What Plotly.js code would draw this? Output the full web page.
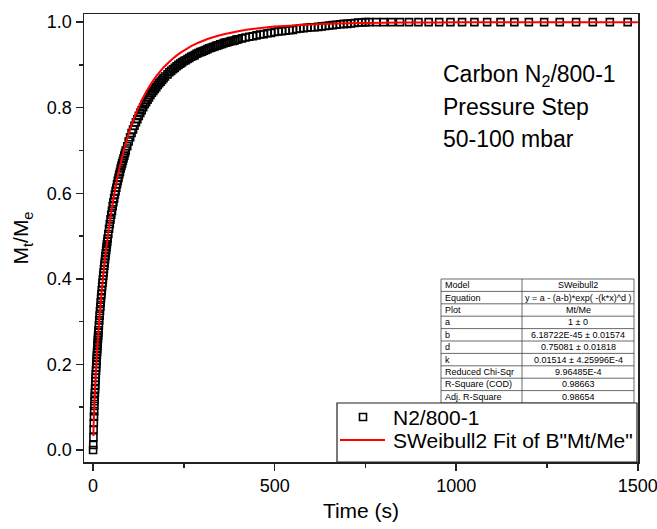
<!DOCTYPE html>
<html>
<head>
<meta charset="utf-8">
<script src="https://cdn.plot.ly/plotly-3.0.1.min.js"></script>
<style>html,body{margin:0;padding:0;background:#fff;}#chart{width:657px;height:529px;}</style>
</head>
<body>
<div id="chart"></div>
<script>
// Measured data: time (s) and normalized uptake Mt/Me
const timeS = [
  0,0.5,1,1.5,2,2.5,3,3.5,4,4.5,5,5.5,6,6.5,7,7.5,8,8.5,9,9.5,10,10.5,11,11.5,12,12.5,13,13.5,14,14.5,15,
  16,17,18,19,20,21,22,23,24,25,26,27,28,29,30,31,32,33,34,35,36,37,38,39,40,
  42,44,46,48,50,52,54,56,58,60,62,64,66,68,70,72,74,76,78,80,82,84,86,88,90,
  94,98,102,106,110,114,118,122,126,130,134,138,142,146,150,154,158,162,166,170,174,178,182,186,190,194,198,
  205,210,215,220,225,230,235,240,245,250,255,260,265,270,275,280,285,290,295,300,
  305,310,315,320,325,330,335,340,345,350,355,360,365,370,375,380,385,390,395,400,
  410,420,430,440,450,460,470,480,490,500,510,520,530,540,550,560,570,580,590,600,
  610,620,630,640,650,660,670,680,690,700,710,720,730,740,750,
  760,780,800,822,845,870,896,924,953,984,1016,1050,1085,1122,1160,1200,1242,1285,1330,1376,1423,1472
];
const mtMe = [
  0,0.012,0.030,0.048,0.063,0.078,0.091,0.103,0.114,0.124,0.134,0.143,0.152,0.161,0.169,0.177,0.185,0.193,0.201,0.208,0.215,0.222,0.229,0.236,0.243,0.249,0.256,0.262,0.268,0.274,0.280,
  0.292,0.303,0.314,0.325,0.335,0.345,0.355,0.364,0.373,0.382,0.391,0.399,0.407,0.415,0.423,0.431,0.438,0.446,0.453,0.460,0.467,0.474,0.481,0.487,0.494,
  0.505,0.517,0.528,0.539,0.550,0.559,0.570,0.579,0.588,0.597,0.605,0.613,0.621,0.629,0.636,0.644,0.650,0.658,0.664,0.670,0.676,0.682,0.688,0.694,0.700,
  0.710,0.721,0.731,0.741,0.749,0.758,0.766,0.773,0.781,0.788,0.794,0.801,0.808,0.813,0.819,0.824,0.830,0.835,0.839,0.844,0.848,0.853,0.857,0.861,0.865,0.869,0.873,
  0.878,0.883,0.886,0.890,0.893,0.897,0.900,0.903,0.906,0.909,0.911,0.914,0.916,0.919,0.921,0.923,0.926,0.928,0.930,0.931,
  0.933,0.935,0.937,0.939,0.940,0.942,0.943,0.945,0.946,0.948,0.949,0.951,0.952,0.953,0.954,0.956,0.956,0.957,0.959,0.960,
  0.962,0.964,0.966,0.967,0.969,0.971,0.972,0.974,0.975,0.977,0.978,0.979,0.980,0.981,0.982,0.984,0.985,0.986,0.987,0.988,
  0.988,0.989,0.990,0.991,0.992,0.993,0.994,0.995,0.996,0.996,0.997,0.998,0.999,0.999,1.000,
  1,1,1,1,1,1,1,1,1,1,1,1,1,1,1,1,1,1,1,1,1,1
];
// SWeibull2 fit curve, sampled
const fitTime = [0.7,1,1.5,2,3,4,5,6,8,10,12,15,18,21,25,30,35,40,46,52,60,68,76,84,94,106,118,130,142,154,166,178,190,200,220,240,260,280,300,330,360,400,450,500,560,600,700,800,900,1000,1200,1500];
const fitVal  = [0.0325,0.0422,0.0568,0.0700,0.0937,0.1149,0.1344,0.1525,0.1856,0.2155,0.2429,0.2803,0.3141,0.3451,0.3827,0.4249,0.4626,0.4966,0.5333,0.5664,0.6055,0.6401,0.6707,0.6980,0.7282,0.7596,0.7866,0.8101,0.8305,0.8484,0.8640,0.8779,0.8901,0.8992,0.9150,0.9280,0.9388,0.9479,0.9554,0.9646,0.9717,0.9789,0.9852,0.9896,0.9930,0.9946,0.9972,0.9985,0.9992,0.9995,0.99985,0.99997];

// Axis ticks
const xTicks = [0, 500, 1000, 1500];
const yTicks = [0, 0.2, 0.4, 0.6, 0.8, 1.0];
const yTickText = ["0.0", "0.2", "0.4", "0.6", "0.8", "1.0"];

// Fit report table
const tableLabels = ["Model","Equation","Plot","a","b","d","k","Reduced Chi-Sqr","R-Square (COD)","Adj. R-Square"];
const tableValues = ["SWeibull2","y = a - (a-b)*exp( -(k*x)^d )","Mt/Me","1 \u00b1 0","6.18722E-45 \u00b1 0.01574","0.75081 \u00b1 0.01818","0.01514 \u00b1 4.25996E-4","9.96485E-4","0.98663","0.98654"];

const seriesNames = ["N2/800-1", "SWeibull2 Fit of B\"Mt/Me\""];
const noteLines = ["Carbon N<sub>2</sub>/800-1", "Pressure Step", "50-100 mbar"];

const FONT = "Liberation Sans, Arial, sans-serif";
const W = 657, H = 529;
const M = {l:84, r:19, t:14, b:67};
const pw = W - M.l - M.r, ph = H - M.t - M.b;
const px = x => (x - M.l) / pw;
const py = y => (H - M.b - y) / ph;

const traces = [
  {
    type: 'scatter', mode: 'markers', name: seriesNames[0], showlegend: false,
    x: timeS, y: mtMe,
    marker: {symbol: 'square-open', size: 7, color: '#000', line: {width: 1.6, color: '#000'}}
  },
  {
    type: 'scatter', mode: 'lines', name: seriesNames[1], showlegend: false,
    x: fitTime, y: fitVal,
    line: {color: '#ff0000', width: 2, shape: 'spline', smoothing: 0.6}
  }
];

const shapes = [];
const annotations = [];

// Table (fit report)
const T = {x0: 441, x1: 634, xm: 522, y0: 279, y1: 403};
const nRows = tableLabels.length;
const rh = (T.y1 - T.y0) / nRows;
const tline = {color: '#444', width: 0.8};
shapes.push({type:'rect', xref:'paper', yref:'paper', x0:px(T.x0), x1:px(T.x1), y0:py(T.y1), y1:py(T.y0), line:tline, fillcolor:'#fff', layer:'above'});
shapes.push({type:'line', xref:'paper', yref:'paper', x0:px(T.xm), x1:px(T.xm), y0:py(T.y1), y1:py(T.y0), line:tline, layer:'above'});
for (let i = 1; i < nRows; i++) {
  const yy = py(T.y0 + i * rh);
  shapes.push({type:'line', xref:'paper', yref:'paper', x0:px(T.x0), x1:px(T.x1), y0:yy, y1:yy, line:tline, layer:'above'});
}
tableLabels.forEach((lab, i) => {
  const yc = py(T.y0 + (i + 0.5) * rh);
  annotations.push({xref:'paper', yref:'paper', x:px(T.x0 + 2), y:yc, xanchor:'left', yanchor:'middle',
    showarrow:false, text:lab, font:{family:FONT, size:9, color:'#000'}});
  annotations.push({xref:'paper', yref:'paper', x:px((T.xm + T.x1) / 2), y:yc, xanchor:'center', yanchor:'middle',
    showarrow:false, text:tableValues[i], font:{family:FONT, size:9, color:'#000'}});
});

// Legend box
const L = {x0: 337, x1: 637, y0: 403, y1: 462};
shapes.push({type:'rect', xref:'paper', yref:'paper', x0:px(L.x0), x1:px(L.x1), y0:py(L.y1), y1:py(L.y0), line:{color:'#222', width:1.2}, fillcolor:'#fff', layer:'above'});
shapes.push({type:'rect', xref:'paper', yref:'paper', x0:px(359.5), x1:px(366.5), y0:py(420.5), y1:py(413.5), line:{color:'#000', width:1.6}, fillcolor:'rgba(0,0,0,0)', layer:'above'});
shapes.push({type:'line', xref:'paper', yref:'paper', x0:px(340), x1:px(385), y0:py(440), y1:py(440), line:{color:'#ff0000', width:2}, layer:'above'});
seriesNames.forEach((nm, i) => {
  annotations.push({xref:'paper', yref:'paper', x:px(391), y:py([417, 440][i]), xanchor:'left', yanchor:'middle',
    showarrow:false, text:nm, font:{family:FONT, size:21, color:'#000'}});
});

// Annotation text block
noteLines.forEach((t, i) => {
  annotations.push({xref:'paper', yref:'paper', x:px(441), y:py([75, 107, 139][i]),
    xanchor:'left', yanchor:'middle', showarrow:false, align:'left',
    text:t, font:{family:FONT, size:23, color:'#000'}});
});

const axisCommon = {
  showgrid: false, zeroline: false,
  showline: true, linecolor: '#222', linewidth: 1.5, mirror: true,
  ticks: 'outside', ticklen: 7, tickwidth: 1.5, tickcolor: '#222',
  ticklabeloverflow: 'allow',
  tickfont: {family: FONT, size: 18, color: '#000'}
};

const layout = {
  width: W, height: H, margin: M,
  paper_bgcolor: '#fff', plot_bgcolor: '#fff',
  font: {family: FONT, color: '#000'},
  showlegend: false,
  xaxis: Object.assign({}, axisCommon, {
    range: [-25, 1500.5], tickmode: 'array', tickvals: xTicks, ticktext: xTicks.map(String),
    minor: {ticks: 'outside', ticklen: 4, tickwidth: 1.5, tickcolor: '#222', showgrid: false, tickmode: 'linear', tick0: 0, dtick: 250},
    title: {text: 'Time (s)', font: {family: FONT, size: 21, color: '#000'}, standoff: 8}
  }),
  yaxis: Object.assign({}, axisCommon, {
    range: [-0.028, 1.019], tickmode: 'array', tickvals: yTicks, ticktext: yTickText,
    minor: {ticks: 'outside', ticklen: 4, tickwidth: 1.5, tickcolor: '#222', showgrid: false, tickmode: 'linear', tick0: 0, dtick: 0.1},
    title: {text: 'M<sub>t</sub>/M<sub>e</sub>', font: {family: FONT, size: 21, color: '#000'}, standoff: 12}
  }),
  shapes: shapes,
  annotations: annotations
};

Plotly.newPlot('chart', traces, layout, {displayModeBar: false, staticPlot: true});
</script>
</body>
</html>
